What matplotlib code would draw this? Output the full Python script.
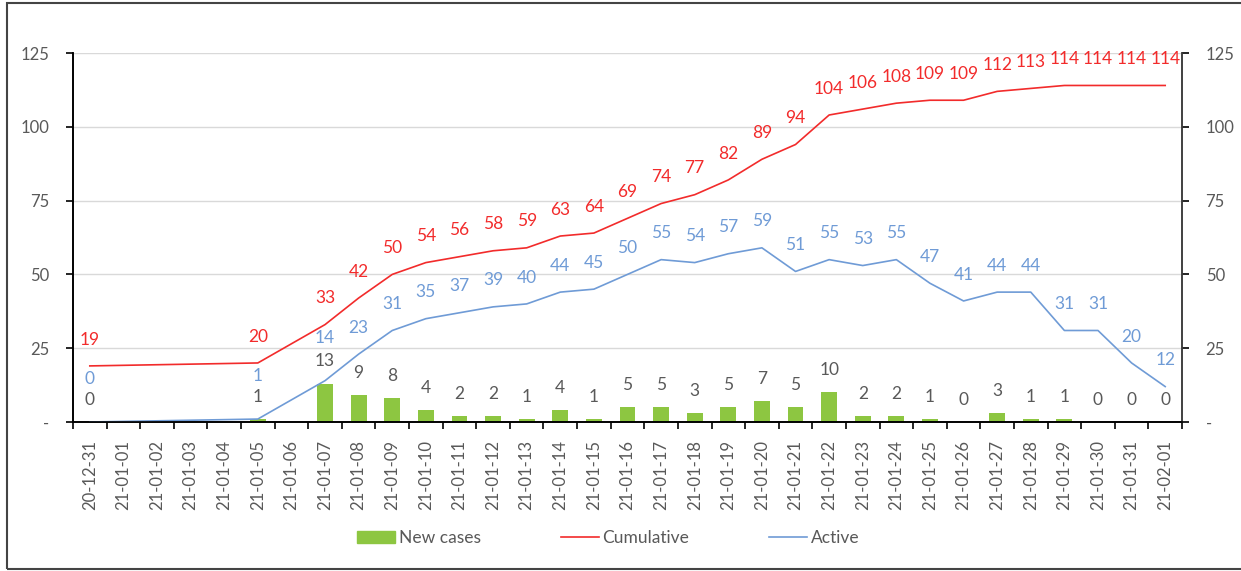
import numpy as np
import matplotlib
matplotlib.use("Agg")
import matplotlib.pyplot as plt
from matplotlib.patches import Patch, Rectangle
from matplotlib.lines import Line2D

plt.rcParams['font.family'] = ['Lato', 'DejaVu Sans']

dates = ["20-12-31"] + ["21-01-%02d" % d for d in range(1, 32)] + ["21-02-01"]

nan = np.nan
new_cases = [0, nan, nan, nan, nan, 1, nan, 13, 9, 8, 4, 2, 2, 1, 4, 1, 5, 5, 3,
             5, 7, 5, 10, 2, 2, 1, 0, 3, 1, 1, 0, 0, 0]
cumulative = [19, nan, nan, nan, nan, 20, nan, 33, 42, 50, 54, 56, 58, 59, 63, 64,
              69, 74, 77, 82, 89, 94, 104, 106, 108, 109, 109, 112, 113, 114, 114,
              114, 114]
active = [0, nan, nan, nan, nan, 1, nan, 14, 23, 31, 35, 37, 39, 40, 44, 45, 50,
          55, 54, 57, 59, 51, 55, 53, 55, 47, 41, 44, 44, 31, 31, 20, 12]

RED = "#F22B2B"
BLUE = "#6F9BD6"
GREEN = "#8DC641"
GRAY = "#595959"

x = np.arange(len(dates))
new_cases = np.array(new_cases, dtype=float)
cumulative = np.array(cumulative, dtype=float)
active = np.array(active, dtype=float)

fig = plt.figure(figsize=(12.41, 5.71), dpi=100)
ax = fig.add_axes([73 / 1241, 1 - 422 / 571, (1182 - 73) / 1241, (422 - 53) / 571])

ax.bar(x, new_cases, width=0.47, color=GREEN, zorder=2)
m = ~np.isnan(cumulative)
ax.plot(x[m], cumulative[m], color=RED, lw=1.2, zorder=3)
m = ~np.isnan(active)
ax.plot(x[m], active[m], color=BLUE, lw=1.2, zorder=3)

# data labels
for i in range(len(x)):
    if not np.isnan(new_cases[i]):
        ax.annotate("%d" % new_cases[i], (x[i], new_cases[i]), xytext=(0, 16),
                    textcoords="offset points", ha="center", va="center",
                    color=GRAY, fontsize=12.5)
    if not np.isnan(cumulative[i]):
        ax.annotate("%d" % cumulative[i], (x[i], cumulative[i]), xytext=(0, 19),
                    textcoords="offset points", ha="center", va="center",
                    color=RED, fontsize=12.5)
    if not np.isnan(active[i]):
        dy = 31 if i in (0, 5, 7) else 19
        ax.annotate("%d" % active[i], (x[i], active[i]), xytext=(0, dy),
                    textcoords="offset points", ha="center", va="center",
                    color=BLUE, fontsize=12.5)

ax.set_xlim(-0.5, len(x) - 0.5)
ax.set_ylim(0, 125)
yt = [0, 25, 50, 75, 100, 125]
ylab = ["-"] + [str(v) for v in yt[1:]]
ax.set_yticks(yt)
ax.set_yticklabels(ylab)
ax.yaxis.grid(True, color="#D9D9D9", lw=1)
ax.set_axisbelow(True)

ax.set_xticks(x)
ax.set_xticklabels(dates, rotation=90, color=GRAY, fontsize=12)
ax.set_xticks(np.arange(-0.5, len(x)), minor=True)
ax.tick_params(axis="x", which="major", length=0, pad=13)
ax.tick_params(axis="x", which="minor", length=5, width=1.2, color="black")
ax.tick_params(axis="y", length=5, width=1.2, color="black", labelcolor=GRAY,
               labelsize=12, pad=12)

ax2 = ax.twinx()
ax2.set_ylim(0, 125)
ax2.set_yticks(yt)
ax2.set_yticklabels(ylab)
ax2.tick_params(axis="y", length=5, width=1.2, color="black", labelcolor=GRAY,
                labelsize=12, pad=12)

for a in (ax, ax2):
    a.spines["top"].set_visible(False)
    a.spines["left"].set_color("black")
    a.spines["right"].set_color("#404040")
    a.spines["bottom"].set_color("black")
    a.spines["left"].set_linewidth(1.2)
    a.spines["right"].set_linewidth(1.2)
    a.spines["bottom"].set_linewidth(1.2)

handles = [Patch(color=GREEN), Line2D([], [], color=RED, lw=1.2),
           Line2D([], [], color=BLUE, lw=1.2)]
fig.legend(handles, ["New cases", "Cumulative", "Active"], loc="center",
           bbox_to_anchor=(0.49, 1 - 538 / 571), ncol=3, frameon=False,
           fontsize=12.5, labelcolor=GRAY, columnspacing=4.6, handlelength=2.2,
           handletextpad=0.2)

fig.patches.append(Rectangle((7 / 1241, 2 / 571), 1.1, 1 - 5 / 571,
                             transform=fig.transFigure, fill=False,
                             edgecolor="#444444", lw=1.5))

fig.savefig("out.png", dpi=100)
